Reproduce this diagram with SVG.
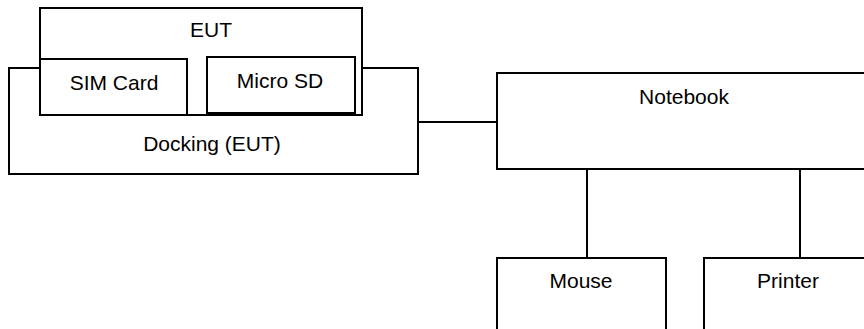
<svg xmlns="http://www.w3.org/2000/svg" width="864" height="329" viewBox="0 0 864 329">
<style>
.box{fill:#fff;stroke:#000;stroke-width:2}
.ln{stroke:#000;stroke-width:2;fill:none}
text{font-family:"Liberation Sans",Arial,sans-serif;font-size:21px;fill:#000;text-anchor:middle}
</style>
<rect width="864" height="329" fill="#fff"/>
<g id="docking"><rect class="box" x="9" y="68" width="409" height="106"/><text x="212" y="151">Docking (EUT)</text></g>
<g id="eut"><rect class="box" x="40" y="8" width="322" height="107"/><text x="211" y="37">EUT</text></g>
<g id="sim"><rect class="box" x="40" y="59" width="147" height="56"/><text x="114" y="90">SIM Card</text></g>
<g id="microsd"><rect class="box" x="207" y="57" width="148" height="56"/><line class="ln" x1="207" y1="113" x2="355" y2="113" stroke-width="3"/><text x="280" y="88">Micro SD</text></g>
<g id="notebook"><rect class="box" x="497" y="73" width="380" height="96"/><text x="684" y="104">Notebook</text></g>
<g id="mouse"><rect class="box" x="497" y="258" width="169" height="90"/><text x="581" y="288">Mouse</text></g>
<g id="printer"><rect class="box" x="704" y="258" width="180" height="90"/><text x="788" y="288">Printer</text></g>
<g id="connectors">
<line class="ln" x1="418" y1="122" x2="497" y2="122"/>
<line class="ln" x1="587" y1="169" x2="587" y2="258"/>
<line class="ln" x1="800" y1="169" x2="800" y2="258"/>
</g>
</svg>
